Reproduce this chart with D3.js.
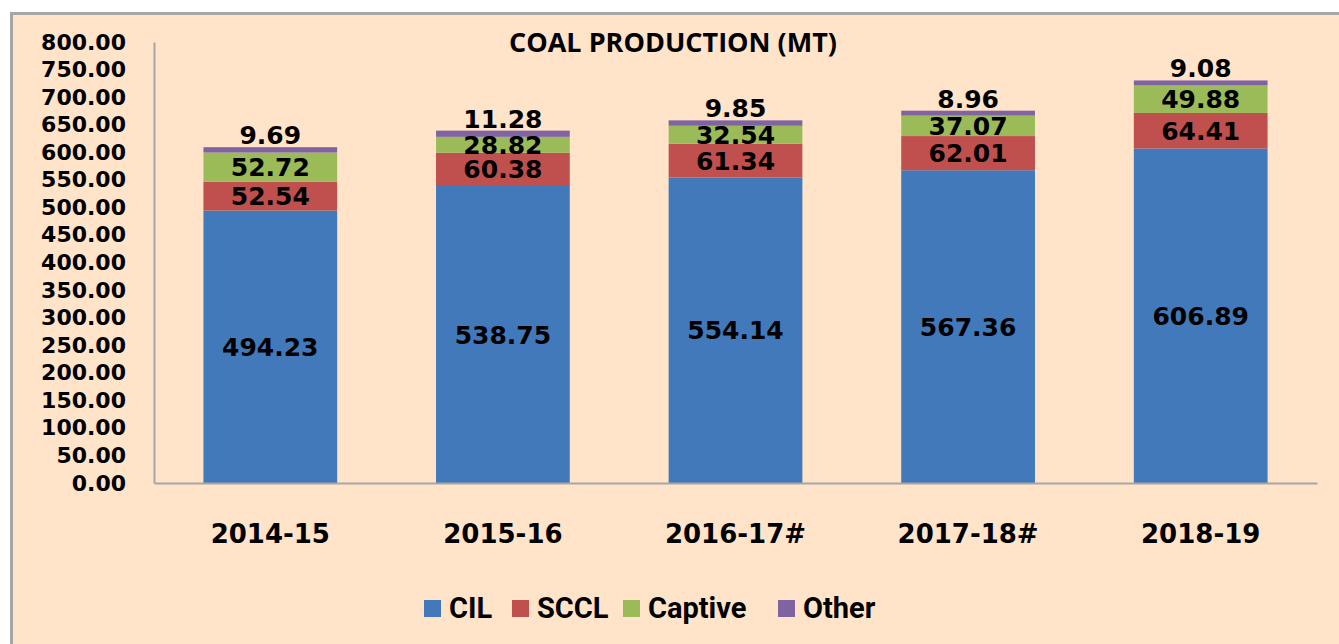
<!DOCTYPE html>
<html>
<head>
<meta charset="utf-8">
<script src="https://cdn.jsdelivr.net/npm/d3@7"></script>
<style>
  html, body { margin: 0; padding: 0; background: #ffffff; }
  svg { display: block; }
</style>
</head>
<body>
<div id="chart"></div>
<script>
// data
var years = ["2014-15", "2015-16", "2016-17#", "2017-18#", "2018-19"];
var cil = [494.23, 538.75, 554.14, 567.36, 606.89];
var sccl = [52.54, 60.38, 61.34, 62.01, 64.41];
var captive = [52.72, 28.82, 32.54, 37.07, 49.88];
var other = [9.69, 11.28, 9.85, 8.96, 9.08];
var seriesNames = ["CIL", "SCCL", "Captive", "Other"];
var seriesColors = ["#4279bb", "#c0504d", "#9bbb59", "#8064a2"];
var yTicks = d3.range(0, 801, 50);

drawCoalChart();

function drawCoalChart() {
    var W = 1339, H = 644;
    var margin = { top: 42, right: 22, bottom: 161, left: 154 };
    var width = W - margin.left - margin.right;
    var height = H - margin.top - margin.bottom;
    var numFont = "'DejaVu Sans', sans-serif";

    var svg = d3.select("#chart").append("svg")
        .attr("width", W)
        .attr("height", H);

    // panel background + border
    svg.append("rect")
        .attr("x", 11.5).attr("y", 13.5)
        .attr("width", W + 20).attr("height", H + 20)
        .attr("fill", "#ffe4ca")
        .attr("stroke", "#a6a6a6")
        .attr("stroke-width", 3);

    var g = svg.append("g")
        .attr("transform", "translate(" + margin.left + "," + margin.top + ")");

    var table = years.map(function (y, i) {
        return { year: y, CIL: cil[i], SCCL: sccl[i], Captive: captive[i], Other: other[i] };
    });
    var stacked = d3.stack().keys(seriesNames)(table);

    var x = d3.scaleBand()
        .domain(years)
        .range([0, width])
        .paddingInner(0.425)
        .paddingOuter(0.2125);
    var y = d3.scaleLinear()
        .domain([0, 800])
        .range([height, 0]);
    var color = d3.scaleOrdinal().domain(seriesNames).range(seriesColors);

    // bars
    var layer = g.selectAll(".layer")
        .data(stacked)
        .enter().append("g")
        .attr("class", "layer")
        .attr("fill", function (d) { return color(d.key); });

    layer.selectAll("rect")
        .data(function (d) { return d; })
        .enter().append("rect")
        .attr("x", function (d) { return x(d.data.year); })
        .attr("width", x.bandwidth())
        .attr("y", function (d) { return y(d[1]); })
        .attr("height", function (d) { return y(d[0]) - y(d[1]); });

    // value labels (Other sits just above its thin segment)
    stacked.forEach(function (s) {
        g.selectAll(".lbl-" + s.key)
            .data(s)
            .enter().append("text")
            .attr("class", "lbl-" + s.key)
            .attr("x", function (d) { return x(d.data.year) + x.bandwidth() / 2; })
            .attr("y", function (d) {
                if (s.key === "Other") return y(d[1]) - 3;
                return (y(d[0]) + y(d[1])) / 2;
            })
            .attr("dy", s.key === "Other" ? 0 : "0.36em")
            .attr("text-anchor", "middle")
            .attr("font-family", numFont)
            .attr("font-weight", "bold")
            .attr("font-size", "25px")
            .attr("fill", "#000")
            .text(function (d) { return (d[1] - d[0]).toFixed(2); });
    });

    // y axis
    var yAxis = g.append("g")
        .call(d3.axisLeft(y).tickValues(yTicks).tickSize(0).tickPadding(28).tickFormat(d3.format(".2f")));
    yAxis.select(".domain").attr("stroke", "#a6a6a6").attr("stroke-width", 2);
    yAxis.selectAll(".tick text")
        .attr("font-family", numFont)
        .attr("font-weight", "bold")
        .attr("font-size", "22px")
        .attr("fill", "#000");

    // x axis
    var xAxis = g.append("g")
        .attr("transform", "translate(0," + height + ")")
        .call(d3.axisBottom(x).tickSize(0).tickPadding(42));
    xAxis.select(".domain").attr("stroke", "#a6a6a6").attr("stroke-width", 2);
    xAxis.selectAll(".tick text")
        .attr("font-family", numFont)
        .attr("font-weight", "bold")
        .attr("font-size", "26px")
        .attr("fill", "#000");

    // title
    svg.append("text")
        .attr("x", 673)
        .attr("y", 52)
        .attr("text-anchor", "middle")
        .attr("font-family", "'Open Sans', sans-serif")
        .attr("font-weight", "bold")
        .attr("font-size", "27px")
        .attr("fill", "#000")
        .text("COAL PRODUCTION (MT)");

    // legend
    var legendX = [424, 512, 623, 778];
    var legend = svg.append("g").attr("class", "legend");
    var item = legend.selectAll("g")
        .data(seriesNames)
        .enter().append("g")
        .attr("transform", function (d, i) { return "translate(" + legendX[i] + ",600)"; });
    item.append("rect")
        .attr("width", 17).attr("height", 17)
        .attr("fill", function (d) { return color(d); });
    item.append("text")
        .attr("x", 25)
        .attr("y", 18)
        .attr("font-family", "Roboto, sans-serif")
        .attr("font-weight", "bold")
        .attr("font-size", "29px")
        .attr("fill", "#000")
        .text(function (d) { return d; });
}
</script>
</body>
</html>
